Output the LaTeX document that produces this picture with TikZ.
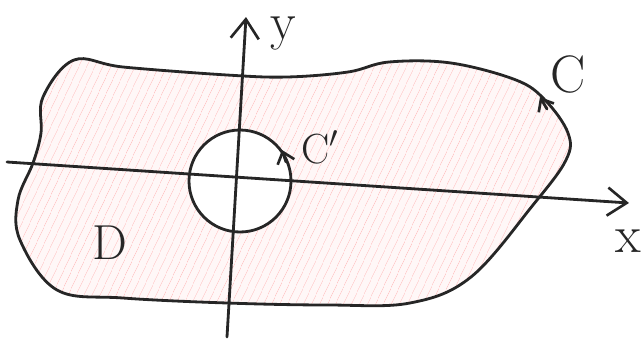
\documentclass[tikz,border=0pt]{standalone}
\usetikzlibrary{positioning, arrows.meta, patterns.meta}
\begin{document}
\begin{tikzpicture}[
        x={(0.02cm,0)}, y={(0,-0.02cm)},
        stroke/.style={
            line width=1.6pt,
            draw=black!85,
            line join=round,
            line cap=round
        },
        axis/.style={
            stroke,
            -{Straight Barb[length=11pt,width=16pt,line width=1.5pt]}
        },
        tip/.style={
            stroke,
            -{Straight Barb[length=6pt,width=10pt,line width=1.5pt]}
        },
        tag/.style={
            inner sep=0pt,
            text=black!85,
            font=\fontsize{30}{34}\selectfont
        },
        region/.style={
            pattern={Lines[angle=65,distance=4pt,line width=0.4pt]},
            pattern color=red!22
        }
    ]
    \useasboundingbox (0,0) rectangle (643,339);

    % Points utiles
    \coordinate (O) at (240,181);
    \coordinate (xl) at (7,162);
    \coordinate (xr) at (629,203);
    \coordinate (yb) at (227,337);
    \coordinate (yt) at (246,17);

    % Domaine D hachuré (sans le disque)
    \def\contour{plot[smooth cycle, tension=0.6] coordinates {
        (74,60) (43,97) (41,133) (33,163) (18,200) (20,240) (57,290)
        (123,298) (227,303) (328,305) (410,303) (471,277) (533,205)
        (566,160) (568,133) (545,100) (516,80) (451,63) (389,62)
        (348,72) (287,77) (227,75) (123,67)}}
    \fill[red!3, even odd rule] \contour (O) circle[radius=51];
    \fill[region, even odd rule] \contour (O) circle[radius=51];

    % Courbes C et C'
    \draw[stroke] \contour;
    \draw[stroke] (O) circle[radius=51];

    % Axes
    \draw[axis] (xl) -- (xr);
    \draw[axis] (yb) -- (yt);

    % Sens de parcours
    \coordinate (cA) at (547,109);
    \coordinate (cB) at (540,97);
    \draw[tip] (cA) -- (cB);
    \coordinate (kA) at (286,162);
    \coordinate (kB) at (282,150);
    \draw[tip] (kA) -- (kB);

    % Etiquettes
    \node[tag] (ylab) at (283,34) {y};
    \node[tag] (xlab) at (628,241) {x};
    \node[tag] (Clab) at (568,74) {C};
    \node[tag, font=\fontsize{24}{28}\selectfont] (Cplab) at (320,147) {C$'$};
    \node[tag, font=\fontsize{28}{32}\selectfont] (Dlab) at (110,243) {D};

\end{tikzpicture}
\end{document}
